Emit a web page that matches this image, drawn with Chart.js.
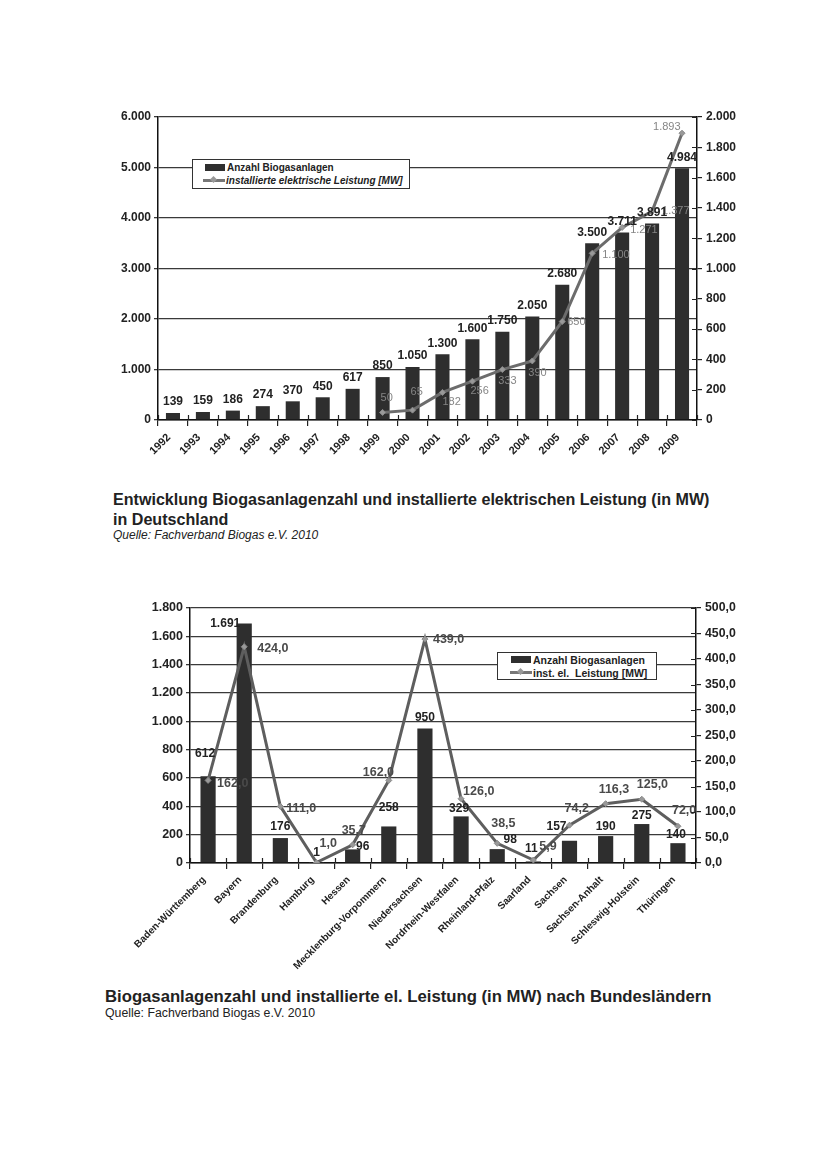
<!DOCTYPE html>
<html>
<head>
<meta charset="utf-8">
<script src="https://cdn.jsdelivr.net/npm/chart.js@4.4.1/dist/chart.umd.min.js"></script>
<style>
  body { margin: 0; background: #fff; width: 827px; height: 1175px; position: relative; font-family: 'Liberation Sans', Arial, sans-serif; color: #222; }
  .abs { position: absolute; }
  .legend { position: absolute; background: #fff; border: 1px solid #333; font-weight: bold; color: #222; }
  .row { display: flex; align-items: center; height: 13px; white-space: nowrap; }
  .sw-bar { width: 20px; height: 7px; background: #2f2f2f; margin-right: 2px; }
  .sw-line { width: 22px; height: 3px; background: #777; margin-right: 1px; position: relative; }
  .sw-line::after { content: ''; position: absolute; left: 8px; top: -2px; width: 5px; height: 5px; background: #999; transform: rotate(45deg); }
</style>
</head>
<body>

<canvas id="chart1" class="abs" style="left:100px;top:100px" width="660" height="380"></canvas>
<div class="legend" style="left:192px;top:159px;width:216px;height:28px;font-size:10px;">
  <div class="row" style="margin:1px 0 0 12px"><div class="sw-bar"></div>Anzahl Biogasanlagen</div>
  <div class="row" style="margin:0 0 0 10px;font-style:italic"><div class="sw-line"></div>installierte elektrische Leistung [MW]</div>
</div>
<div class="abs" style="left:113px;top:489px;font-weight:bold;font-size:16.1px;line-height:20px;">Entwicklung Biogasanlagenzahl und installierte elektrischen Leistung (in MW)<br>in Deutschland</div>
<div class="abs" style="left:113px;top:528px;font-style:italic;font-size:12px;line-height:14px;">Quelle: Fachverband Biogas e.V. 2010</div>

<canvas id="chart2" class="abs" style="left:100px;top:590px" width="660" height="395"></canvas>
<div class="legend" style="left:497px;top:652px;width:158px;height:26px;font-size:10.5px;">
  <div class="row" style="margin:0 0 0 13px"><div class="sw-bar"></div>Anzahl Biogasanlagen</div>
  <div class="row" style="margin:0 0 0 12px"><div class="sw-line"></div>inst. el.&nbsp; Leistung [MW]</div>
</div>
<div class="abs" style="left:105px;top:987px;font-weight:bold;font-size:16.7px;line-height:20px;">Biogasanlagenzahl und installierte el. Leistung (in MW) nach Bundesländern</div>
<div class="abs" style="left:105px;top:1006px;font-size:12.3px;line-height:14px;">Quelle: Fachverband Biogas e.V. 2010</div>

<script>
// Chart 1: Deutschland
var years = ['1992', '1993', '1994', '1995', '1996', '1997', '1998', '1999', '2000',
    '2001', '2002', '2003', '2004', '2005', '2006', '2007', '2008', '2009'];
var anlagenJahr = [139, 159, 186, 274, 370, 450, 617, 850, 1050, 1300, 1600, 1750, 2050, 2680, 3500, 3711, 3891, 4984];
var leistungJahr = [null, null, null, null, null, null, null, 50, 65, 182, 256, 333, 390, 650, 1100, 1271, 1377, 1893];

// Chart 2: Bundeslaender
var laender = ['Baden-Württemberg', 'Bayern', 'Brandenburg', 'Hamburg', 'Hessen', 'Mecklenburg-Vorpommern',
    'Niedersachsen', 'Nordrhein-Westfalen', 'Rheinland-Pfalz', 'Saarland', 'Sachsen', 'Sachsen-Anhalt',
    'Schleswig-Holstein', 'Thüringen'];
var anlagenLand = [612, 1691, 176, 1, 96, 258, 950, 329, 98, 11, 157, 190, 275, 140];
var leistungLand = [162.0, 424.0, 111.0, 1.0, 35.7, 162.0, 439.0, 126.0, 38.5, 5.9, 74.2, 116.3, 125.0, 72.0];

var FONT = "'Liberation Sans', Arial, sans-serif";

function fmtInt(v) {
    return String(Math.round(v)).replace(/\B(?=(\d{3})+(?!\d))/g, '.');
}
function fmtDec(v) {
    return v.toFixed(1).replace('.', ',');
}

// draws value labels next to bars / points
var valueLabels = {
    id: 'valueLabels',
    afterDatasetsDraw: function (chart, args, opts) {
        var ctx = chart.ctx;
        chart.data.datasets.forEach(function (ds, di) {
            var cfg = opts.sets[di];
            if (!cfg) return;
            var meta = chart.getDatasetMeta(di);
            ctx.save();
            ctx.font = cfg.font;
            ctx.fillStyle = cfg.color;
            ctx.textAlign = cfg.align;
            ctx.textBaseline = 'middle';
            meta.data.forEach(function (el, i) {
                var v = ds.data[i];
                if (v === null) return;
                var off = (cfg.offsets && cfg.offsets[i]) || cfg.offset;
                ctx.fillText(cfg.format(v), el.x + off[0], el.y + off[1]);
            });
            ctx.restore();
        });
    }
};

// small inner tick marks so the axis ticks cross the axis line
var crossTicks = {
    id: 'crossTicks',
    afterDraw: function (chart) {
        var ctx = chart.ctx;
        var x = chart.scales.x, y1 = chart.scales.y1;
        ctx.save();
        ctx.strokeStyle = '#222';
        ctx.lineWidth = 1.2;
        ctx.beginPath();
        var n = chart.data.labels.length;
        var w = (x.right - x.left) / n;
        for (var i = 0; i <= n; i++) {
            var px = Math.round(x.left + i * w) + 0.5;
            ctx.moveTo(px, x.top);
            ctx.lineTo(px, x.top - 5);
        }
        y1.ticks.forEach(function (t, i) {
            var py = Math.round(y1.getPixelForTick(i)) + 0.5;
            ctx.moveTo(y1.left, py);
            ctx.lineTo(y1.left - 5, py);
        });
        ctx.stroke();
        ctx.restore();
    }
};

function fixWidth(w) { return function (axis) { axis.width = w; }; }
function fixHeight(h) { return function (axis) { axis.height = h; }; }

window.initializeChart1 = function () {
    var ctx = document.getElementById('chart1').getContext('2d');
    window.chart1 = new Chart(ctx, {
        type: 'bar',
        data: {
            labels: years,
            datasets: [{
                type: 'line',
                label: 'installierte elektrische Leistung [MW]',
                data: leistungJahr,
                yAxisID: 'y1',
                borderColor: '#6c6c6c',
                borderWidth: 3,
                pointStyle: 'rectRot',
                pointRadius: 3,
                pointBackgroundColor: '#999',
                pointBorderColor: '#888',
                pointBorderWidth: 1,
                tension: 0,
                order: 0
            }, {
                label: 'Anzahl Biogasanlagen',
                data: anlagenJahr,
                yAxisID: 'y',
                backgroundColor: '#2e2e2e',
                barPercentage: 0.47,
                categoryPercentage: 1,
                order: 1
            }]
        },
        options: {
            responsive: false,
            animation: false,
            layout: { padding: { top: 17, left: 0, right: 0, bottom: 0 } },
            plugins: {
                legend: { display: false },
                tooltip: { enabled: false },
                valueLabels: {
                    sets: [{
                        font: '11px ' + FONT,
                        color: '#858585',
                        align: 'left',
                        format: fmtInt,
                        offset: [6, 0],
                        offsets: [null, null, null, null, null, null, null,
                            [-2, -14], [-2, -18], [0, 10], [-2, 10], [-4, 11], [-4, 12],
                            [5, 0], [10, 2], [8, 3], [10, 0], [-29, -6]]
                    }, {
                        font: 'bold 12px ' + FONT,
                        color: '#222',
                        align: 'center',
                        format: fmtInt,
                        offset: [0, -11]
                    }]
                }
            },
            scales: {
                x: {
                    grid: { display: true, drawOnChartArea: false, offset: true, tickLength: 6, color: '#222', lineWidth: 1.2 },
                    border: { color: '#111', width: 1.5 },
                    ticks: { font: { family: FONT, size: 11, weight: 'bold' }, color: '#222', minRotation: 45, maxRotation: 45, autoSkip: false, padding: 5, labelOffset: -4 },
                    afterFit: fixHeight(60)
                },
                y: {
                    position: 'left',
                    min: 0, max: 6000,
                    ticks: { stepSize: 1000, font: { family: FONT, size: 12, weight: 'bold' }, color: '#222', padding: 3, callback: function (v) { return fmtInt(v); } },
                    grid: { color: '#3a3a3a', lineWidth: 1.3, tickLength: 4 },
                    border: { color: '#111', width: 1.5 },
                    afterFit: fixWidth(58)
                },
                y1: {
                    position: 'right',
                    min: 0, max: 2000,
                    ticks: { stepSize: 200, font: { family: FONT, size: 12, weight: 'bold' }, color: '#222', padding: 4, callback: function (v) { return fmtInt(v); } },
                    grid: { drawOnChartArea: false, tickLength: 5, color: '#222', lineWidth: 1.2 },
                    border: { color: '#111', width: 1.5 },
                    afterFit: fixWidth(63)
                }
            }
        },
        plugins: [valueLabels, crossTicks]
    });
};

window.initializeChart2 = function () {
    var ctx = document.getElementById('chart2').getContext('2d');
    window.chart2 = new Chart(ctx, {
        type: 'bar',
        data: {
            labels: laender,
            datasets: [{
                type: 'line',
                label: 'inst. el. Leistung [MW]',
                data: leistungLand,
                yAxisID: 'y1',
                borderColor: '#5e5e5e',
                borderWidth: 3,
                pointStyle: 'rectRot',
                pointRadius: 3,
                pointBackgroundColor: '#999',
                pointBorderColor: '#888',
                pointBorderWidth: 1,
                tension: 0,
                order: 0
            }, {
                label: 'Anzahl Biogasanlagen',
                data: anlagenLand,
                yAxisID: 'y',
                backgroundColor: '#2e2e2e',
                barPercentage: 0.42,
                categoryPercentage: 1,
                order: 1
            }]
        },
        options: {
            responsive: false,
            animation: false,
            layout: { padding: { top: 18, left: 0, right: 0, bottom: 0 } },
            plugins: {
                legend: { display: false },
                tooltip: { enabled: false },
                valueLabels: {
                    sets: [{
                        font: 'bold 12.5px ' + FONT,
                        color: '#4a4a4a',
                        align: 'left',
                        format: fmtDec,
                        offset: [6, 0],
                        offsets: [[9, 3], [13, 2], [6, 2], [3, -19], [-11, -14], [-26, -8], [8, 0],
                            [2, -7], [-6, -20], [6, -13], [-5, -17], [-7, -14], [-5, -15], [-6, -16]]
                    }, {
                        font: 'bold 12px ' + FONT,
                        color: '#222',
                        align: 'center',
                        format: fmtInt,
                        offset: [0, -11],
                        offsets: [[-3, -23], [-19, 0], [0, -11], [0, -10], [10, -3], [0, -19], [0, -11],
                            [-2, -8], [13, -9], [-2, -13], [-13, -14], [0, -9], [0, -8], [-2, -8]]
                    }]
                }
            },
            scales: {
                x: {
                    grid: { display: true, drawOnChartArea: false, offset: true, tickLength: 6, color: '#222', lineWidth: 1.2 },
                    border: { color: '#111', width: 1.5 },
                    ticks: { font: { family: FONT, size: 10, weight: 'bold' }, color: '#222', minRotation: 45, maxRotation: 45, autoSkip: false, padding: 5, labelOffset: -4 },
                    afterFit: fixHeight(122)
                },
                y: {
                    position: 'left',
                    min: 0, max: 1800,
                    ticks: { stepSize: 200, font: { family: FONT, size: 12.5, weight: 'bold' }, color: '#222', padding: 3, callback: function (v) { return fmtInt(v); } },
                    grid: { color: '#3a3a3a', lineWidth: 1.3, tickLength: 4 },
                    border: { color: '#111', width: 1.5 },
                    afterFit: fixWidth(90)
                },
                y1: {
                    position: 'right',
                    min: 0, max: 500,
                    ticks: { stepSize: 50, font: { family: FONT, size: 12.3, weight: 'bold' }, color: '#222', padding: 4, callback: function (v) { return fmtDec(v); } },
                    grid: { drawOnChartArea: false, tickLength: 5, color: '#222', lineWidth: 1.2 },
                    border: { color: '#111', width: 1.5 },
                    afterFit: fixWidth(64)
                }
            }
        },
        plugins: [valueLabels, crossTicks]
    });
};

window.initializeChart1();
window.initializeChart2();
</script>
</body>
</html>
